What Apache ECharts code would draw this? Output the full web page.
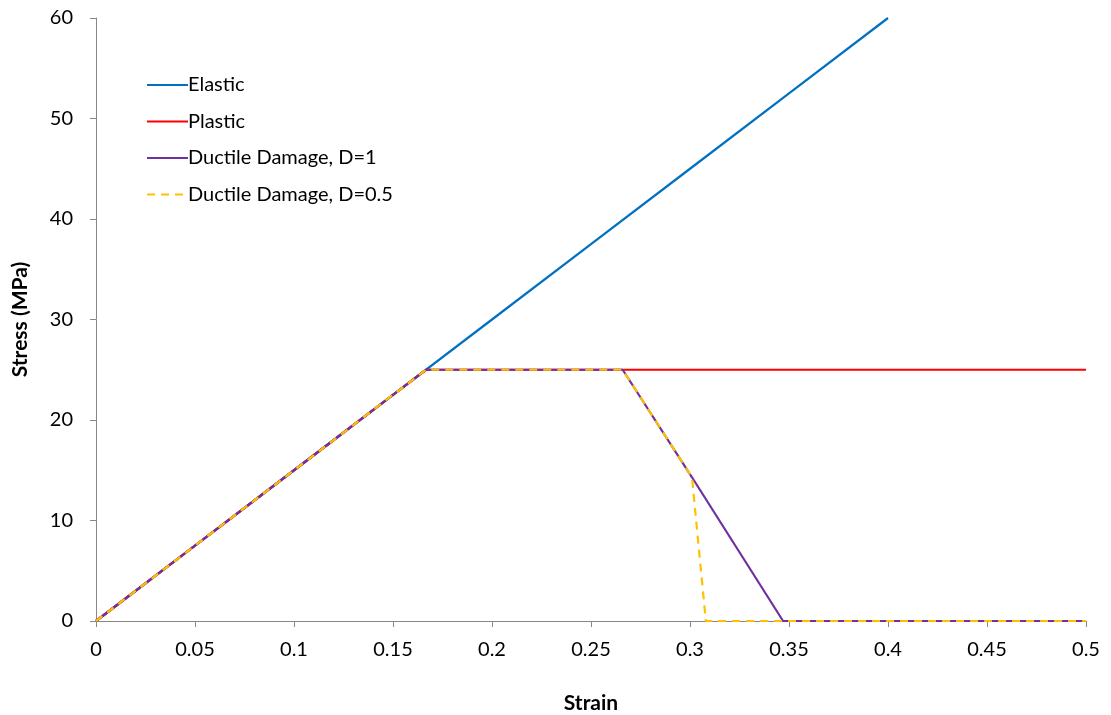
<!DOCTYPE html>
<html>
<head>
<meta charset="utf-8">
<script src="https://cdn.jsdelivr.net/npm/echarts@6/dist/echarts.min.js"></script>
<style>html,body{margin:0;padding:0;background:#fff}#c{width:1111px;height:715px}</style>
</head>
<body>
<div id="c"></div>
<script>
const seriesNames = ['Elastic', 'Plastic', 'Ductile Damage, D=1', 'Ductile Damage, D=0.5'];
const elastic = [[0,0],[0.05,7.5],[0.1,15],[0.15,22.5],[0.2,30],[0.25,37.5],[0.3,45],[0.35,52.5],[0.4,60]];
const plastic = [[0,0],[0.05,7.5],[0.1,15],[0.15,22.5],[0.1667,25],[0.5,25]];
const damageD1 = [[0,0],[0.05,7.5],[0.1,15],[0.15,22.5],[0.1667,25],[0.266,25],[0.301,14.3],[0.347,0],[0.5,0]];
const damageD05 = [[0,0],[0.05,7.5],[0.1,15],[0.15,22.5],[0.1667,25],[0.266,25],[0.301,14.3],[0.308,0],[0.5,0]];
const colors = ['#0070C0', '#FF0000', '#7030A0', '#FFC000'];

const font = 'Lato, "Liberation Sans", sans-serif';
const chart = echarts.init(document.getElementById('c'));
const mk = (name, data, color, type) => ({
  name, type: 'line', data, showSymbol: false, symbol: 'none',
  lineStyle: { color, width: 2.2, type: type || 'solid' },
  itemStyle: { color }, animation: false
});
chart.setOption({
  animation: false,
  textStyle: { fontFamily: font },
  grid: { left: 96, right: 25, top: 18, bottom: 94, containLabel: false, outerBoundsMode: 'none' },
  legend: {
    orient: 'vertical', left: 141, top: 70,
    itemWidth: 41, itemHeight: 14, itemGap: 16.5,
    itemStyle: { opacity: 0 },
    textStyle: { fontSize: 20, lineHeight: 20, color: '#000', fontFamily: font, padding: [0,0,0,-5] },
    data: seriesNames
  },
  xAxis: {
    type: 'value', min: 0, max: 0.5, interval: 0.05,
    name: 'Strain', nameLocation: 'middle', nameGap: 72,
    nameTextStyle: { fontSize: 21, fontWeight: 'bold', color: '#000', fontFamily: font },
    axisLine: { lineStyle: { color: '#888', width: 1 } },
    axisTick: { show: true, length: 6, lineStyle: { color: '#888' } },
    axisLabel: { fontSize: 20, color: '#000', margin: 19, fontFamily: font },
    splitLine: { show: false }
  },
  yAxis: {
    type: 'value', min: 0, max: 60, interval: 10,
    name: 'Stress (MPa)', nameLocation: 'middle', nameGap: 65, nameRotate: 90,
    nameTextStyle: { fontSize: 21, fontWeight: 'bold', color: '#000', fontFamily: font },
    axisLine: { show: true, lineStyle: { color: '#888', width: 1 } },
    axisTick: { show: true, length: 6, lineStyle: { color: '#888' } },
    axisLabel: { fontSize: 20, color: '#000', margin: 23, fontFamily: font },
    splitLine: { show: false }
  },
  series: [
    mk(seriesNames[0], elastic, colors[0]),
    mk(seriesNames[1], plastic, colors[1]),
    mk(seriesNames[2], damageD1, colors[2]),
    mk(seriesNames[3], damageD05, colors[3], [8, 6])
  ]
});
</script>
</body>
</html>
